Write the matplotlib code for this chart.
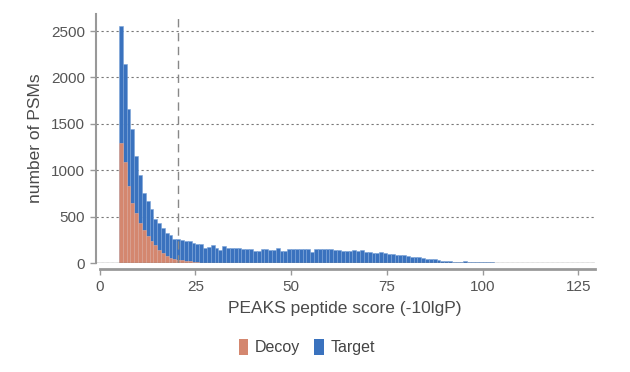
import matplotlib
matplotlib.use("Agg")
import matplotlib.pyplot as plt
from matplotlib.patches import Patch

# histogram bins, 1 unit wide, left edges
bin_left = list(range(5, 111))

target = [2550, 2150, 1660, 1440, 1150, 950, 755, 665, 578, 475,
          432, 373, 326, 300, 262, 255, 250, 240, 237, 215,
          205, 200, 162, 170, 190, 160, 144, 187, 160, 160,
          160, 165, 147, 147, 155, 133, 133, 147, 147, 140,
          140, 162, 133, 133, 147, 150, 150, 155, 150, 150,
          122, 150, 155, 155, 150, 150, 140, 140, 130, 133,
          133, 137, 133, 140, 118, 122, 112, 104, 118, 104,
          97, 97, 86, 86, 83, 79, 65, 65, 61, 54,
          47, 43, 43, 29, 25, 22, 18, 14, 14, 14,
          18, 14, 11, 14, 14, 11, 7, 6, 5, 5,
          4, 3, 3, 2, 2, 1]

decoy = [1297, 1090, 830, 650, 540, 430, 360, 290, 232, 195,
         145, 112, 75, 55, 42, 35, 28, 22, 18, 12,
         8, 5, 3, 2, 2, 1] + [0] * 80

threshold = 20.4

decoy_color = "#d4876f"
target_color = "#3a72be"

fig = plt.figure(figsize=(6.3, 3.72), dpi=100)
ax = fig.add_axes([0.152, 0.293, 0.792, 0.669])

ax.bar(bin_left, target, width=1, align="edge", color=target_color,
       edgecolor="#7aa3d8", linewidth=0.4, zorder=2)
ax.bar(bin_left, decoy, width=1, align="edge", color=decoy_color,
       edgecolor="#e2aa98", linewidth=0.4, zorder=3)

ax.axhline(0, color="#888888", linewidth=1.0, zorder=4)
ax.axvline(threshold, color="#888888", linewidth=1.0, dashes=(6, 4), zorder=5)

ax.set_xlim(-1.04, 129.3)
ax.set_ylim(0, 2683)
ax.set_yticks([0, 500, 1000, 1500, 2000, 2500])
ax.set_xticks([0, 25, 50, 75, 100, 125])
ax.yaxis.grid(True, color="#777777", linewidth=0.8, dashes=(2, 2.5))
ax.set_axisbelow(True)

for s in ["top", "right"]:
    ax.spines[s].set_visible(False)
ax.spines["left"].set_color("#999999")
ax.spines["left"].set_linewidth(1.5)
ax.spines["bottom"].set_color("#999999")
ax.spines["bottom"].set_linewidth(2)
ax.spines["bottom"].set_position(("outward", 4.5))
ax.spines["bottom"].set_bounds(0, 129.3)

font = "Liberation Sans"
ax.tick_params(colors="#999999", labelcolor="#555555", length=4, width=1,
               labelsize=11)
for lab in ax.get_xticklabels() + ax.get_yticklabels():
    lab.set_family(font)

ax.set_xlabel("PEAKS peptide score (-10lgP)", fontsize=12.5, color="#4a4a4a",
              family=font, labelpad=5)
ax.set_ylabel("number of PSMs", fontsize=12.5, color="#4a4a4a",
              family=font, labelpad=6)

handles = [Patch(facecolor=decoy_color, label="Decoy"),
           Patch(facecolor=target_color, label="Target")]
fig.legend(handles=handles, loc="center", bbox_to_anchor=(0.487, 0.067),
           ncol=2, frameon=False, handlelength=0.6, handleheight=1.2,
           handletextpad=0.4, columnspacing=0.9,
           prop={"family": font, "size": 11.5}, labelcolor="#444444")

fig.savefig("out.png", dpi=100)
